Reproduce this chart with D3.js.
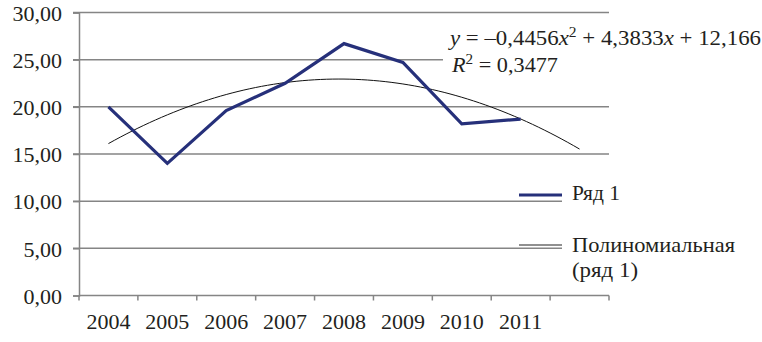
<!DOCTYPE html>
<html>
<head>
    <meta charset="UTF-8">
    <title>Ряд 1</title>
    <script src="https://d3js.org/d3.v7.min.js"></script>
</head>
<body style="margin:0; background:#fff">
    <div id="chart"></div>
    <script>
        // data
        const years = ["2004", "2005", "2006", "2007", "2008", "2009", "2010", "2011"];
        const categories = years.concat([""]); // trend forecast one period ahead
        const values = [20.0, 14.0, 19.6, 22.5, 26.7, 24.7, 18.2, 18.7];
        const yTicks = [0, 5, 10, 15, 20, 25, 30];
        const trendCoef = [-0.4456, 4.3833, 12.166]; // a, b, c from the chart label
        const rSquared = "0,3477";
        const legendLabels = ["Ряд 1", "Полиномиальная", "(ряд 1)"];

        const FONT = "Liberation Serif, serif";
        const INK = "#231f20";
        const width = 762, height = 342;
        const plotLeft = 79, plotRight = 609, plotTop = 12.5, plotBottom = 295.5;

        const svg = d3.select("#chart").append("svg")
            .attr("width", width)
            .attr("height", height)
            .attr("font-family", FONT);

        const x = d3.scaleBand().domain(categories).range([plotLeft, plotRight]).padding(0);
        const y = d3.scaleLinear().domain([0, 30]).range([plotBottom, plotTop]);
        const cx = d => x(d) + x.bandwidth() / 2;

        const ru = d3.formatLocale({ decimal: ",", thousands: " ", grouping: [3], currency: ["", ""] });
        const fmt = ru.format(".2f");

        // gridlines
        svg.append("g").selectAll("line")
            .data(yTicks.filter(d => d > 0))
            .join("line")
            .attr("x1", plotLeft - 6).attr("x2", plotRight)
            .attr("y1", d => y(d)).attr("y2", d => y(d))
            .attr("stroke", "#858585").attr("stroke-width", 1.5);

        // white boxes behind the trend label and legend
        svg.append("rect").attr("x", 443).attr("y", 24).attr("width", 319).attr("height", 54).attr("fill", "#fff");
        svg.append("rect").attr("x", 562).attr("y", 165).attr("width", 200).attr("height", 122).attr("fill", "#fff");

        // y axis
        const yAxis = svg.append("g")
            .attr("transform", `translate(${plotLeft},0)`)
            .call(d3.axisLeft(y).tickValues(yTicks).tickFormat(fmt).tickSize(6).tickPadding(11))
            .attr("font-family", FONT);
        yAxis.select(".domain").attr("stroke", "#858585").attr("stroke-width", 1.5);
        yAxis.selectAll(".tick line").attr("stroke", "#858585").attr("stroke-width", 1.5);
        yAxis.selectAll(".tick text")
            .attr("font-family", FONT).attr("font-size", 22).attr("fill", INK)
            .attr("dy", "0.35em");

        // x axis: ticks at band edges
        const xAxis = svg.append("g").attr("transform", `translate(0,${plotBottom})`);
        xAxis.append("line")
            .attr("x1", plotLeft).attr("x2", plotRight)
            .attr("stroke", "#858585").attr("stroke-width", 1.5);
        xAxis.selectAll("line.tk")
            .data(categories.concat(["end"]))
            .join("line")
            .attr("class", "tk")
            .attr("x1", (d, i) => plotLeft + i * x.bandwidth())
            .attr("x2", (d, i) => plotLeft + i * x.bandwidth())
            .attr("y1", 0).attr("y2", 5)
            .attr("stroke", "#858585").attr("stroke-width", 1.5);
        xAxis.selectAll("text")
            .data(years)
            .join("text")
            .attr("x", d => cx(d))
            .attr("y", 33)
            .attr("text-anchor", "middle")
            .attr("font-family", FONT).attr("font-size", 22).attr("fill", INK)
            .text(d => d);

        // trend line (polynomial, order 2)
        const xi = d3.scaleLinear().domain([1, categories.length]).range([cx(categories[0]), cx(categories[categories.length - 1])]);
        const trendX = d3.range(1, categories.length + 0.001, 0.1);
        const poly = t => trendCoef[0] * t * t + trendCoef[1] * t + trendCoef[2];
        svg.append("path")
            .datum(trendX)
            .attr("fill", "none")
            .attr("stroke", "#111")
            .attr("stroke-width", 1)
            .attr("d", d3.line().x(t => xi(t)).y(t => y(poly(t))));

        // series
        svg.append("path")
            .datum(values)
            .attr("fill", "none")
            .attr("stroke", "#26307a")
            .attr("stroke-width", 3.2)
            .attr("stroke-linejoin", "miter")
            .attr("d", d3.line().x((d, i) => cx(years[i])).y(d => y(d)));

        // equation label
        const eq = svg.append("text").attr("x", 450).attr("y", 45)
            .attr("font-family", FONT).attr("font-size", 22).attr("fill", INK)
            .attr("textLength", 311).attr("lengthAdjust", "spacingAndGlyphs");
        eq.append("tspan").attr("font-style", "italic").text("y");
        eq.append("tspan").text(" = –0,4456");
        eq.append("tspan").attr("font-style", "italic").text("x");
        eq.append("tspan").attr("dy", -8).attr("font-size", 15).text("2");
        eq.append("tspan").attr("dy", 8).text(" + 4,3833");
        eq.append("tspan").attr("font-style", "italic").text("x");
        eq.append("tspan").text(" + 12,166");

        const r2 = svg.append("text").attr("x", 452).attr("y", 72)
            .attr("font-family", FONT).attr("font-size", 22).attr("fill", INK)
            .attr("textLength", 106).attr("lengthAdjust", "spacingAndGlyphs");
        r2.append("tspan").attr("font-style", "italic").text("R");
        r2.append("tspan").attr("dy", -8).attr("font-size", 15).text("2");
        r2.append("tspan").attr("dy", 8).text(" = " + rSquared);

        // legend
        const lg = svg.append("g");
        lg.append("line").attr("x1", 519).attr("x2", 562).attr("y1", 195).attr("y2", 195)
            .attr("stroke", "#26307a").attr("stroke-width", 3.2);
        lg.append("line").attr("x1", 519).attr("x2", 562).attr("y1", 245).attr("y2", 245)
            .attr("stroke", "#222").attr("stroke-width", 1.2);
        lg.selectAll("text")
            .data(legendLabels)
            .join("text")
            .attr("x", 572)
            .attr("y", (d, i) => [200, 252, 277][i])
            .attr("font-family", FONT).attr("font-size", 22).attr("fill", INK)
            .attr("textLength", (d, i) => [48, 163, 66][i])
            .attr("lengthAdjust", "spacingAndGlyphs")
            .text(d => d);
    </script>
</body>
</html>
